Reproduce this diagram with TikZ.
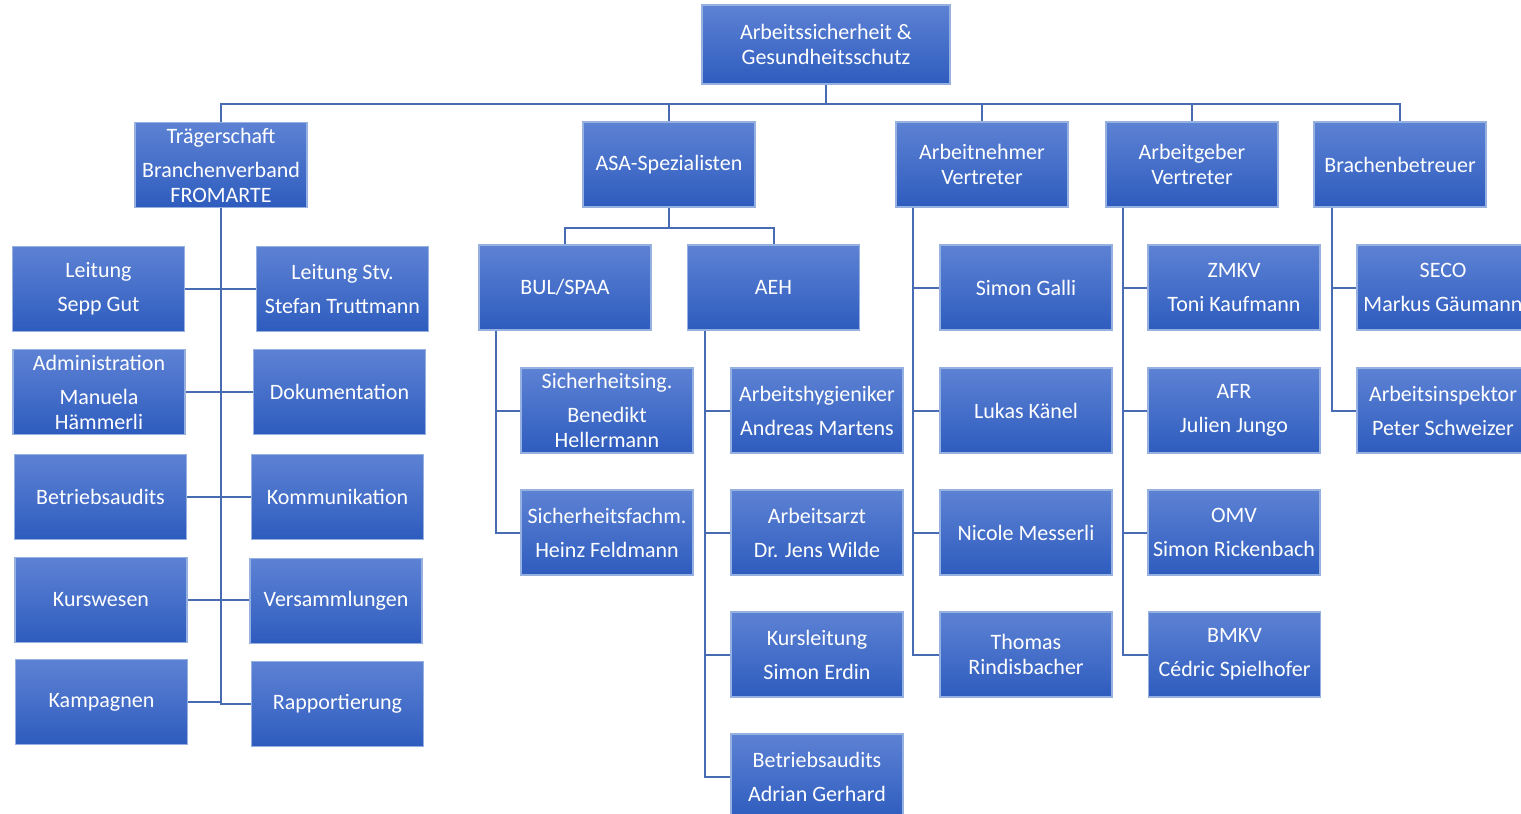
\documentclass[tikz,border=0pt]{standalone}
\usepackage{fontspec}
\setmainfont{Carlito}
\definecolor{boxtop}{RGB}{93,130,212}
\definecolor{boxbottom}{RGB}{46,92,190}
\definecolor{boxrim}{RGB}{150,176,224}
\definecolor{linkblue}{RGB}{72,108,180}
\newcommand{\gap}{\\[6.75pt]}
\begin{document}
\begin{tikzpicture}[x=0.75pt,y=-0.75pt,
    unit/.style={draw=boxrim,line width=0.8pt,top color=boxtop,bottom color=boxbottom,
      text=white,font=\fontsize{16.5}{18.75}\selectfont,align=center,
      minimum width=129pt,minimum height=63.75pt,inner sep=0pt},
    link/.style={draw=linkblue,line width=1.5pt}]
        \clip (0,0) rectangle (1521,814);
        \node[unit,minimum width=186pt,minimum height=59.25pt] (top) at (826,44.5) {Arbeitssicherheit \&\\Gesundheitsschutz};
        \node[unit] (traeger) at (221,165) {Trägerschaft\gap Branchenverband\\FROMARTE};
        \node[unit] (asa) at (669,164.5) {ASA-Spezialisten};
        \node[unit] (anv) at (982,164.5) {Arbeitnehmer\\Vertreter};
        \node[unit] (agv) at (1192,164.5) {Arbeitgeber\\Vertreter};
        \node[unit] (bb) at (1400,164.5) {Brachenbetreuer};
        % Traegerschaft
        \node[unit] (leit) at (98.5,289) {Leitung\gap Sepp Gut};
        \node[unit] (admin) at (99,392) {Administration\gap Manuela\\Hämmerli};
        \node[unit] (baud) at (100.5,497) {Betriebsaudits};
        \node[unit] (kurs) at (101,600) {Kurswesen};
        \node[unit] (kamp) at (101.5,702) {Kampagnen};
        \node[unit] (stv) at (342.5,289) {Leitung Stv.\gap Stefan Truttmann};
        \node[unit] (doku) at (339.5,392) {Dokumentation};
        \node[unit] (komm) at (337.5,497) {Kommunikation};
        \node[unit] (vers) at (336,601) {Versammlungen};
        \node[unit] (rapp) at (337.5,704) {Rapportierung};
        % ASA
        \node[unit] (bul) at (565,287.5) {BUL/SPAA};
        \node[unit] (aeh) at (773.5,287.5) {AEH};
        \node[unit] (sing) at (607,410.5) {Sicherheitsing.\gap Benedikt\\Hellermann};
        \node[unit] (sfach) at (607,532.5) {Sicherheitsfachm.\gap Heinz Feldmann};
        \node[unit] (hyg) at (817,410.5) {Arbeitshygieniker\gap Andreas Martens};
        \node[unit] (arzt) at (817,532.5) {Arbeitsarzt\gap Dr. Jens Wilde};
        \node[unit] (kl) at (817,654.5) {Kursleitung\gap Simon Erdin};
        \node[unit] (ag) at (817,776.5) {Betriebsaudits\gap Adrian Gerhard};
        % Arbeitnehmer
        \node[unit] (galli) at (1026,287.5) {Simon Galli};
        \node[unit] (kaenel) at (1026,410.5) {Lukas Känel};
        \node[unit] (messerli) at (1026,532.5) {Nicole Messerli};
        \node[unit] (rind) at (1026,654.5) {Thomas\\Rindisbacher};
        % Arbeitgeber
        \node[unit] (zmkv) at (1234,287.5) {ZMKV\gap Toni Kaufmann};
        \node[unit] (afr) at (1234,410.5) {AFR\gap Julien Jungo};
        \node[unit] (omv) at (1234,532.5) {OMV\gap Simon Rickenbach};
        \node[unit] (bmkv) at (1234.5,654.5) {BMKV\gap Cédric Spielhofer};
        % Brachenbetreuer
        \node[unit] (seco) at (1443,287.5) {SECO\gap Markus Gäumann};
        \node[unit] (insp) at (1443,410.5) {Arbeitsinspektor\gap Peter Schweizer};
        \coordinate (bus) at (826,104);
        \coordinate (asabus) at (669,228);
        \draw[link] (top.south) -- (bus);
        \draw[link] (bus) -| (traeger.north);
        \draw[link] (bus) -| (asa.north);
        \draw[link] (bus) -| (anv.north);
        \draw[link] (bus) -| (agv.north);
        \draw[link] (bus) -| (bb.north);
        \draw[link] (traeger.south) -- (traeger.south |- rapp.west);
        \draw[link] (leit.east) -- (stv.west);
        \draw[link] (admin.east) -- (doku.west);
        \draw[link] (baud.east) -- (baud.east -| komm.west);
        \draw[link] (kurs.east) -- (kurs.east -| vers.west);
        \draw[link] (kamp.east) -- (kamp.east -| traeger.south) |- (rapp.west);
        \draw[link] (asa.south) -- (asabus);
        \draw[link] (asabus) -| (bul.north);
        \draw[link] (asabus) -| (aeh.north);
        \draw[link] ([xshift=13.5pt]bul.south west) |- (sing.west);
        \draw[link] ([xshift=13.5pt]bul.south west) |- (sfach.west);
        \draw[link] ([xshift=13.5pt]aeh.south west) |- (hyg.west);
        \draw[link] ([xshift=13.5pt]aeh.south west) |- (arzt.west);
        \draw[link] ([xshift=13.5pt]aeh.south west) |- (kl.west);
        \draw[link] ([xshift=13.5pt]aeh.south west) |- (ag.west);
        \draw[link] ([xshift=13.5pt]anv.south west) |- (galli.west);
        \draw[link] ([xshift=13.5pt]anv.south west) |- (kaenel.west);
        \draw[link] ([xshift=13.5pt]anv.south west) |- (messerli.west);
        \draw[link] ([xshift=13.5pt]anv.south west) |- (rind.west);
        \draw[link] ([xshift=13.5pt]agv.south west) |- (zmkv.west);
        \draw[link] ([xshift=13.5pt]agv.south west) |- (afr.west);
        \draw[link] ([xshift=13.5pt]agv.south west) |- (omv.west);
        \draw[link] ([xshift=13.5pt]agv.south west) |- (bmkv.west);
        \draw[link] ([xshift=14pt]bb.south west) |- (seco.west);
        \draw[link] ([xshift=14pt]bb.south west) |- (insp.west);
      \end{tikzpicture}
\end{document}
